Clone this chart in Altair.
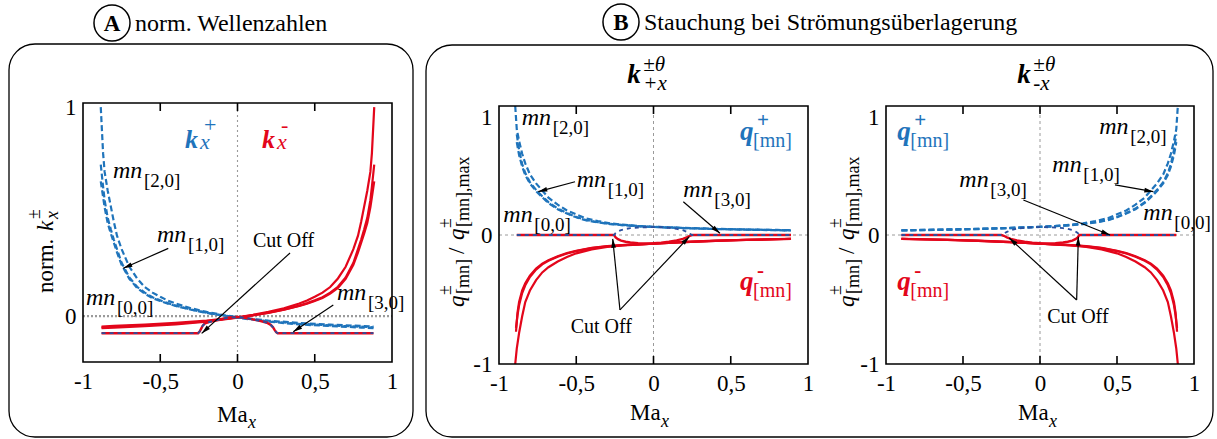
import math
import altair as alt
import pandas as pd

FONT = "'Liberation Serif', 'Times New Roman', 'DejaVu Serif', serif"
BLUE = "#1f74bb"
RED = "#e3061b"
GREY = "#9a9a9a"

PAGE_W, PAGE_H = 1217, 439

# ---------------------------------------------------------------
# Panel A - normalised axial wave numbers k_x^+ (blue) / k_x^- (red)
# ---------------------------------------------------------------
A_KP_X = [-0.885, -0.87, -0.86, -0.84, -0.82, -0.80, -0.78, -0.75, -0.70, -0.65, -0.60, -0.55,
          -0.50, -0.45, -0.40, -0.30, -0.20, -0.10, 0.0, 0.20, 0.40, 0.60, 0.80, 0.88]
A_KP_Y_OUTER = [1.0, 0.78, 0.69, 0.60, 0.525, 0.45, 0.385, 0.32, 0.236, 0.18, 0.139, 0.112,
                0.092, 0.074, 0.06, 0.037, 0.02, 0.006, -0.006, -0.022, -0.033, -0.041, -0.047, -0.05]
A_KP_Y_MID = [0.725, 0.62, 0.555, 0.47, 0.415, 0.365, 0.32, 0.255, 0.185, 0.14, 0.112, 0.09,
              0.075, 0.062, 0.05, 0.031, 0.016, 0.004, -0.007, -0.025, -0.037, -0.045, -0.051, -0.054]
A_KP_Y_IN = [0.645, 0.57, 0.52, 0.445, 0.395, 0.35, 0.305, 0.245, 0.178, 0.135, 0.107, 0.086,
             0.072, 0.059, 0.048, 0.03, 0.015, 0.003, -0.008, -0.027, -0.04, -0.048, -0.055, -0.058]

A_KM_X = [-0.88, -0.80, -0.60, -0.40, -0.20, 0.0, 0.10, 0.20, 0.30, 0.40, 0.45, 0.50,
          0.55, 0.60, 0.65, 0.70, 0.75, 0.78, 0.80, 0.82, 0.84, 0.86, 0.87, 0.885]
A_KM_Y_OUTER = [-0.05, -0.047, -0.041, -0.033, -0.022, -0.006, 0.006, 0.02, 0.037, 0.06, 0.074, 0.092,
                0.112, 0.139, 0.18, 0.236, 0.32, 0.385, 0.45, 0.525, 0.60, 0.69, 0.78, 1.0]
A_KM_Y_MID = [-0.054, -0.051, -0.045, -0.037, -0.025, -0.007, 0.004, 0.016, 0.031, 0.05, 0.062, 0.075,
              0.09, 0.112, 0.14, 0.185, 0.255, 0.32, 0.365, 0.415, 0.47, 0.555, 0.62, 0.725]
A_KM_Y_IN = [-0.058, -0.055, -0.048, -0.04, -0.027, -0.008, 0.003, 0.015, 0.03, 0.048, 0.059, 0.072,
             0.086, 0.107, 0.135, 0.178, 0.245, 0.305, 0.35, 0.395, 0.445, 0.52, 0.57, 0.645]

# mode [3,0]: cut off for |Ma| < 0.25
A_C30_X = [-0.88, -0.255, -0.245, -0.235, -0.225, -0.21, -0.18, -0.15, -0.10, -0.05, 0.0, 0.05,
           0.10, 0.15, 0.19, 0.215, 0.23, 0.24, 0.25, 0.26, 0.88]
A_C30_Y = [-0.082, -0.082, -0.074, -0.06, -0.046, -0.035, -0.028, -0.022, -0.014, -0.007, -0.004, -0.008,
           -0.016, -0.024, -0.032, -0.042, -0.054, -0.066, -0.077, -0.082, -0.082]

# ---------------------------------------------------------------
# Panel B1 - compression for k_{+x}
# ---------------------------------------------------------------
B1_QP_X = [-0.895, -0.885, -0.87, -0.85, -0.83, -0.80, -0.76, -0.72, -0.68, -0.62, -0.56, -0.50,
           -0.44, -0.36, -0.28, -0.20, -0.10, 0.0, 0.20, 0.40, 0.60, 0.80, 0.89]
B1_QP_Y_OUTER = [1.0, 0.82, 0.73, 0.63, 0.555, 0.47, 0.40, 0.345, 0.29, 0.235, 0.19, 0.16,
                 0.13, 0.108, 0.09, 0.08, 0.07, 0.064, 0.055, 0.048, 0.043, 0.039, 0.037]
B1_QPI_X = [-0.885, -0.87, -0.85, -0.83, -0.80, -0.76, -0.72, -0.68, -0.62, -0.56, -0.50,
            -0.44, -0.36, -0.28, -0.20, -0.10, 0.0, 0.20, 0.40, 0.60, 0.80, 0.89]
B1_QP_Y_MID = [0.78, 0.66, 0.55, 0.48, 0.41, 0.35, 0.30, 0.255, 0.205, 0.17, 0.14,
               0.117, 0.099, 0.086, 0.077, 0.069, 0.063, 0.054, 0.047, 0.042, 0.038, 0.036]
B1_QP_Y_IN = [0.72, 0.62, 0.53, 0.465, 0.40, 0.34, 0.292, 0.248, 0.20, 0.166, 0.137,
              0.114, 0.097, 0.085, 0.076, 0.068, 0.062, 0.053, 0.046, 0.041, 0.037, 0.035]

B1_QM_X = [-0.895, -0.885, -0.87, -0.85, -0.83, -0.80, -0.76, -0.72, -0.68, -0.62, -0.56, -0.50,
           -0.40, -0.30, -0.20, -0.10, 0.0, 0.20, 0.40, 0.60, 0.80, 0.89]
B1_QM_Y_OUTER = [-1.0, -0.88, -0.76, -0.63, -0.52, -0.43, -0.35, -0.29, -0.25, -0.205, -0.17, -0.142,
                 -0.112, -0.092, -0.08, -0.074, -0.068, -0.055, -0.045, -0.038, -0.033, -0.03]
B1_QMT_X = [-0.89, -0.88, -0.87, -0.85, -0.83, -0.80, -0.76, -0.72, -0.68, -0.62, -0.56, -0.50,
            -0.40, -0.30, -0.20, -0.10, 0.0, 0.20, 0.40, 0.60, 0.80, 0.89]
B1_QM_Y_MID = [-0.75, -0.60, -0.52, -0.43, -0.375, -0.315, -0.26, -0.222, -0.195, -0.165, -0.14, -0.122,
               -0.10, -0.086, -0.078, -0.072, -0.067, -0.054, -0.044, -0.037, -0.032, -0.029]
B1_QM_Y_IN = [-0.72, -0.62, -0.545, -0.45, -0.39, -0.325, -0.268, -0.228, -0.20, -0.169, -0.143, -0.125,
              -0.102, -0.088, -0.079, -0.073, -0.068, -0.055, -0.045, -0.038, -0.033, -0.03]

B1_C30_X = [-0.885, -0.255, -0.245, -0.23, -0.21, -0.18, -0.15, -0.10, -0.05, 0.0, 0.05, 0.10,
            0.15, 0.19, 0.215, 0.235, 0.25, 0.89]
B1_C30_Y_RED = [0, 0, -0.018, -0.032, -0.043, -0.052, -0.058, -0.063, -0.065, -0.064, -0.06, -0.052,
                -0.042, -0.03, -0.018, -0.006, 0, 0]
B1_C30_Y_BLUE = [0, 0, 0.016, 0.028, 0.038, 0.047, 0.053, 0.058, 0.06, 0.061, 0.06, 0.056,
                 0.048, 0.037, 0.024, 0.01, 0, 0]

# ---------------------------------------------------------------
# Panel B2 - compression for k_{-x}
# ---------------------------------------------------------------
B2_QP_X = [-0.90, -0.80, -0.60, -0.40, -0.20, 0.0, 0.10, 0.20, 0.28, 0.36, 0.44, 0.50,
           0.56, 0.62, 0.68, 0.72, 0.76, 0.80, 0.83, 0.85, 0.87, 0.885, 0.895]
B2_QP_Y_OUTER = [0.037, 0.039, 0.043, 0.048, 0.055, 0.064, 0.07, 0.08, 0.09, 0.108, 0.13, 0.16,
                 0.19, 0.235, 0.29, 0.345, 0.40, 0.47, 0.555, 0.63, 0.73, 0.82, 1.0]
B2_QPI_X = [-0.90, -0.80, -0.60, -0.40, -0.20, 0.0, 0.10, 0.20, 0.28, 0.36, 0.44, 0.50,
            0.56, 0.62, 0.68, 0.72, 0.76, 0.80, 0.83, 0.85, 0.87, 0.885]
B2_QP_Y_MID = [0.036, 0.038, 0.042, 0.047, 0.054, 0.063, 0.069, 0.077, 0.086, 0.099, 0.117, 0.14,
               0.17, 0.205, 0.255, 0.30, 0.35, 0.41, 0.48, 0.55, 0.66, 0.78]
B2_QP_Y_IN = [0.035, 0.037, 0.041, 0.046, 0.053, 0.062, 0.068, 0.076, 0.085, 0.097, 0.114, 0.137,
              0.166, 0.20, 0.248, 0.292, 0.34, 0.40, 0.465, 0.53, 0.62, 0.72]

B2_QM_X = [-0.90, -0.80, -0.60, -0.40, -0.20, 0.0, 0.10, 0.20, 0.30, 0.40, 0.50, 0.56,
           0.62, 0.68, 0.72, 0.76, 0.80, 0.83, 0.85, 0.87, 0.885, 0.895]
B2_QM_Y_OUTER = [-0.03, -0.033, -0.038, -0.045, -0.055, -0.068, -0.074, -0.08, -0.092, -0.112, -0.142, -0.17,
                 -0.205, -0.25, -0.29, -0.35, -0.43, -0.52, -0.63, -0.76, -0.88, -1.0]
B2_QMT_X = [-0.90, -0.80, -0.60, -0.40, -0.20, 0.0, 0.10, 0.20, 0.30, 0.40, 0.50, 0.56,
            0.62, 0.68, 0.72, 0.76, 0.80, 0.83, 0.85, 0.87, 0.88, 0.89]
B2_QM_Y_MID = [-0.029, -0.032, -0.037, -0.044, -0.054, -0.067, -0.072, -0.078, -0.086, -0.10, -0.122, -0.14,
               -0.165, -0.195, -0.222, -0.26, -0.315, -0.375, -0.43, -0.52, -0.60, -0.75]
B2_QM_Y_IN = [-0.03, -0.033, -0.038, -0.045, -0.055, -0.068, -0.073, -0.079, -0.088, -0.102, -0.125, -0.143,
              -0.169, -0.20, -0.228, -0.268, -0.325, -0.39, -0.45, -0.545, -0.62, -0.72]

B2_C30_X = [-0.90, -0.25, -0.235, -0.215, -0.19, -0.15, -0.10, -0.05, 0.0, 0.05, 0.10, 0.15,
            0.18, 0.21, 0.23, 0.245, 0.255, 0.885]
B2_C30_Y_RED = [0, 0, -0.006, -0.018, -0.03, -0.042, -0.052, -0.06, -0.064, -0.065, -0.063, -0.058,
                -0.052, -0.043, -0.032, -0.018, 0, 0]
B2_C30_Y_BLUE = [0, 0, 0.01, 0.024, 0.037, 0.048, 0.056, 0.06, 0.061, 0.06, 0.058, 0.053,
                 0.047, 0.038, 0.028, 0.016, 0, 0]

# ---------------------------------------------------------------
# Axis ticks and annotation positions (data coordinates)
# ---------------------------------------------------------------
X_TICKS = [-1, -0.5, 0, 0.5, 1]
INNER_TICKS = [-0.5, 0, 0.5]

A_MN_X = [-0.806, -0.521, -0.981, 0.644]
A_MN_Y = [0.661, 0.355, 0.053, 0.077]
A_MN_SUB = ["[2,0]", "[1,0]", "[0,0]", "[3,0]"]
A_CUT = (0.10, 0.331)
A_K_X = [-0.34, 0.159]
A_K_Y = [0.805, 0.805]
A_ARROW_TAIL = [(-0.448, 0.324), (0.34, 0.302), (0.62, 0.053)]
A_ARROW_HEAD = [(-0.739, 0.229), (-0.232, -0.083), (0.361, -0.075)]

B1_MN_X = [-0.853, -0.497, -0.972, 0.193]
B1_MN_Y = [0.853, 0.374, 0.103, 0.297]
B1_MN_SUB = ["[2,0]", "[1,0]", "[0,0]", "[3,0]"]
B1_CUT = (-0.536, -0.757)
B1_Q_X = [0.56, 0.56]
B1_Q_Y = [0.736, -0.426]
B1_TITLE = (-0.17, 1.176)
B1_ARROW_TAIL = [(-0.508, 0.413), (0.193, 0.258), (-0.217, -0.581), (-0.217, -0.581)]
B1_ARROW_HEAD = [(-0.746, 0.336), (0.43, 0.013), (-0.264, -0.03), (0.232, -0.013)]

B2_MN_X = [0.385, 0.08, -0.524, 0.671]
B2_MN_Y = [0.783, 0.491, 0.374, 0.116]
B2_MN_SUB = ["[2,0]", "[1,0]", "[3,0]", "[0,0]"]
B2_CUT = (0.047, -0.685)
B2_Q_X = [-0.927, -0.927]
B2_Q_Y = [0.736, -0.426]
B2_TITLE = (-0.147, 1.176)
B2_ARROW_TAIL = [(0.487, 0.388), (-0.108, 0.271), (0.238, -0.504), (0.238, -0.504)]
B2_ARROW_HEAD = [(0.736, 0.336), (0.455, 0.0), (-0.20, -0.023), (0.249, -0.013)]

# plot rectangles on the page
PANELS = {
    "A": dict(xd=[-1, 1], yd=[-0.22, 1.02], xr=[83, 392], yr=[362, 103], yticks=[0, 1]),
    "B1": dict(xd=[-1, 1], yd=[-1, 1], xr=[499, 808], yr=[364, 106], yticks=[-1, 0, 1]),
    "B2": dict(xd=[-1, 1], yd=[-1, 1], xr=[886, 1194], yr=[364, 106], yticks=[-1, 0, 1]),
}

LABEL_EXPR = "replace(toString(datum.value), '.', ',')"


def scales(p):
    sx = alt.Scale(domain=p["xd"], range=p["xr"], nice=False, zero=False)
    sy = alt.Scale(domain=p["yd"], range=p["yr"], nice=False, zero=False)
    return sx, sy


def xy(p, xf="x", yf="y"):
    sx, sy = scales(p)
    return dict(x=alt.X(f"{xf}:Q", scale=sx, axis=None),
                y=alt.Y(f"{yf}:Q", scale=sy, axis=None))


def curves(p, series, **mark):
    rows = []
    for cid, (xs, ys) in enumerate(series):
        for i, (a, b) in enumerate(zip(xs, ys)):
            rows.append({"c": cid, "i": i, "x": a, "y": b})
    return (alt.Chart(pd.DataFrame(rows)).mark_line(**mark)
            .encode(**xy(p), detail="c:N", order="i:Q"))


def texts(p, xs, ys, labels, colors=None, **mark):
    df = pd.DataFrame({"x": xs, "y": ys, "t": labels,
                       "col": colors if colors else ["black"] * len(xs)})
    style = dict(font=FONT, align="left", baseline="alphabetic")
    style.update(mark)
    return (alt.Chart(df).mark_text(**style)
            .encode(**xy(p), text="t:N", color=alt.Color("col:N", scale=None)))


def arrows(p, tails, heads):
    kx = (p["xr"][1] - p["xr"][0]) / (p["xd"][1] - p["xd"][0])
    ky = (p["yr"][0] - p["yr"][1]) / (p["yd"][1] - p["yd"][0])
    rows = []
    for (x1, y1), (x2, y2) in zip(tails, heads):
        dxp = (x2 - x1) * kx
        dyp = -(y2 - y1) * ky
        ang = math.degrees(math.atan2(dxp, -dyp)) % 360
        rows.append(dict(x=x1, y=y1, x2=x2, y2=y2, a=ang))
    df = pd.DataFrame(rows)
    sx, sy = scales(p)
    shaft = alt.Chart(df).mark_rule(color="black", strokeWidth=1.2).encode(
        x=alt.X("x:Q", scale=sx, axis=None), y=alt.Y("y:Q", scale=sy, axis=None),
        x2="x2:Q", y2="y2:Q")
    head = alt.Chart(df).mark_point(shape="M0,0L0.5,1.9L-0.5,1.9Z", filled=True, color="black",
                                    size=90, opacity=1).encode(
        x=alt.X("x2:Q", scale=sx, axis=None), y=alt.Y("y2:Q", scale=sy, axis=None),
        angle=alt.Angle("a:Q", scale=None))
    return [shaft, head]


def frame_and_axes(p, flush_top):
    sx, sy = scales(p)
    df = pd.DataFrame({"x": [p["xd"][0]], "x2": [p["xd"][1]],
                       "y": [p["yd"][0]], "y2": [p["yd"][1]]})
    common = dict(ticks=False, domain=False, grid=False, labelFont=FONT, labelFontSize=23,
                  labelColor="black", labelFlush=False, labelOverlap=False, title="")
    xaxis = alt.Axis(values=X_TICKS, labelExpr=LABEL_EXPR, orient="bottom",
                     offset=p["yr"][0] - PAGE_H, labelPadding=8, **common)
    ybase = {"condition": {"test": "datum.value == 1", "value": "top"}, "value": "middle"} \
        if flush_top else "middle"
    yaxis = alt.Axis(values=p["yticks"], labelExpr=LABEL_EXPR, orient="left",
                     offset=-p["xr"][0], labelPadding=7, labelBaseline=ybase, **common)
    return alt.Chart(df).mark_rect(fill="transparent", stroke="black", strokeWidth=1.6).encode(
        x=alt.X("x:Q", scale=sx, axis=xaxis), x2="x2:Q",
        y=alt.Y("y:Q", scale=sy, axis=yaxis), y2="y2:Q")


def zero_lines(p, hdash, hwidth, vdash, vwidth):
    sx, sy = scales(p)
    h = pd.DataFrame({"x": [p["xd"][0]], "x2": [p["xd"][1]], "y": [0]})
    v = pd.DataFrame({"x": [0], "y": [p["yd"][0]], "y2": [p["yd"][1]]})
    hl = alt.Chart(h).mark_rule(color=GREY, strokeDash=hdash, strokeWidth=hwidth).encode(
        x=alt.X("x:Q", scale=sx, axis=None), x2="x2:Q", y=alt.Y("y:Q", scale=sy, axis=None))
    vl = alt.Chart(v).mark_rule(color=GREY, strokeDash=vdash, strokeWidth=vwidth).encode(
        x=alt.X("x:Q", scale=sx, axis=None), y=alt.Y("y:Q", scale=sy, axis=None), y2="y2:Q")
    return [hl, vl]


def inner_ticks(p):
    sx, sy = scales(p)
    top = pd.DataFrame({"x": INNER_TICKS, "y": [p["yd"][1]] * 3})
    bot = pd.DataFrame({"x": INNER_TICKS, "y": [p["yd"][0]] * 3})
    out = []
    for df, off in ((top, 8), (bot, -8)):
        out.append(alt.Chart(df).mark_rule(color="black", strokeWidth=1.6, y2Offset=off).encode(
            x=alt.X("x:Q", scale=sx, axis=None), y=alt.Y("y:Q", scale=sy, axis=None), y2="y:Q"))
    return out


def mn_labels(p, xs, ys, subs):
    return [texts(p, xs, ys, ["mn"] * len(xs), fontSize=24, fontStyle="italic"),
            texts(p, xs, ys, subs, fontSize=19, dx=31, dy=9)]


def cutoff_mode(p, xs, y_red, y_blue):
    return [curves(p, [(xs, y_red)], color=RED, strokeWidth=2.4),
            curves(p, [(xs, y_blue)], color="#2a4f9e", strokeWidth=1.8, strokeDash=[4, 4])]


layers = []

# ---------------- panel A ----------------
pA = PANELS["A"]
layers += zero_lines(pA, [2, 2], 2.2, [2, 3], 1.1)
layers.append(curves(pA, [(A_KM_X, A_KM_Y_OUTER), (A_KM_X, A_KM_Y_MID), (A_KM_X, A_KM_Y_IN)],
                     color=RED, strokeWidth=2.2))
layers.append(curves(pA, [(A_KP_X, A_KP_Y_OUTER), (A_KP_X, A_KP_Y_MID), (A_KP_X, A_KP_Y_IN)],
                     color=BLUE, strokeWidth=2.2, strokeDash=[6, 3]))
layers += cutoff_mode(pA, A_C30_X, A_C30_Y, A_C30_Y)
layers += mn_labels(pA, A_MN_X, A_MN_Y, A_MN_SUB)
layers.append(texts(pA, [A_CUT[0]], [A_CUT[1]], ["Cut Off"], fontSize=20))
layers.append(texts(pA, A_K_X, A_K_Y, ["k", "k"], [BLUE, RED], fontSize=26,
                    fontStyle="italic", fontWeight="bold"))
layers.append(texts(pA, A_K_X, A_K_Y, ["x", "x"], [BLUE, RED], fontSize=22,
                    fontStyle="italic", dx=15, dy=1))
layers.append(texts(pA, A_K_X, A_K_Y, ["+", "-"], [BLUE, RED], fontSize=22, dx=19, dy=-16))
layers += arrows(pA, A_ARROW_TAIL, A_ARROW_HEAD)
layers += inner_ticks(pA)
layers.append(frame_and_axes(pA, False))


# ---------------- panels B1 / B2 ----------------
def panel_b(p, qp, qm, c30, mn, cut, qpos, title, sub, tails, heads):
    out = []
    out += zero_lines(p, [3, 3], 1.0, [3, 3], 1.0)
    out.append(curves(p, qm, color=RED, strokeWidth=2.2))
    out.append(curves(p, qp, color=BLUE, strokeWidth=2.2, strokeDash=[6, 3]))
    out += cutoff_mode(p, *c30)
    out += mn_labels(p, *mn)
    out.append(texts(p, [cut[0]], [cut[1]], ["Cut Off"], fontSize=20))
    qx, qy = qpos
    out.append(texts(p, qx, qy, ["q", "q"], [BLUE, RED], fontSize=27,
                     fontStyle="italic", fontWeight="bold"))
    out.append(texts(p, qx, qy, ["+", "-"], [BLUE, RED], fontSize=21, fontWeight="bold",
                     dx=17, dy=-13))
    out.append(texts(p, qx, qy, ["[mn]", "[mn]"], [BLUE, RED], fontSize=20, dx=13, dy=7))
    out.append(texts(p, [title[0]], [title[1]], ["k"], fontSize=27, fontStyle="italic",
                     fontWeight="bold"))
    out.append(texts(p, [title[0]], [title[1]], ["\u00b1\u03b8"], fontSize=21, fontStyle="italic",
                     dx=16, dy=-12))
    out.append(texts(p, [title[0]], [title[1]], [sub], fontSize=21, fontStyle="italic",
                     dx=16, dy=7))
    out += arrows(p, tails, heads)
    out += inner_ticks(p)
    out.append(frame_and_axes(p, True))
    return out


layers += panel_b(
    PANELS["B1"],
    [(B1_QP_X, B1_QP_Y_OUTER), (B1_QPI_X, B1_QP_Y_MID), (B1_QPI_X, B1_QP_Y_IN)],
    [(B1_QM_X, B1_QM_Y_OUTER), (B1_QMT_X, B1_QM_Y_MID), (B1_QMT_X, B1_QM_Y_IN)],
    (B1_C30_X, B1_C30_Y_RED, B1_C30_Y_BLUE),
    (B1_MN_X, B1_MN_Y, B1_MN_SUB), B1_CUT, (B1_Q_X, B1_Q_Y), B1_TITLE, "+x",
    B1_ARROW_TAIL, B1_ARROW_HEAD)

layers += panel_b(
    PANELS["B2"],
    [(B2_QP_X, B2_QP_Y_OUTER), (B2_QPI_X, B2_QP_Y_MID), (B2_QPI_X, B2_QP_Y_IN)],
    [(B2_QM_X, B2_QM_Y_OUTER), (B2_QMT_X, B2_QM_Y_MID), (B2_QMT_X, B2_QM_Y_IN)],
    (B2_C30_X, B2_C30_Y_RED, B2_C30_Y_BLUE),
    (B2_MN_X, B2_MN_Y, B2_MN_SUB), B2_CUT, (B2_Q_X, B2_Q_Y), B2_TITLE, "-x",
    B2_ARROW_TAIL, B2_ARROW_HEAD)


# ---------------- page furniture (pixel positions) ----------------
def pix_text(rows, **mark):
    df = pd.DataFrame(rows, columns=["t", "px", "py"])
    style = dict(font=FONT, align="left", baseline="alphabetic", color="black")
    style.update(mark)
    return alt.Chart(df).mark_text(**style).encode(
        x=alt.X("px:Q", scale=None, axis=None), y=alt.Y("py:Q", scale=None, axis=None), text="t:N")


boxes = pd.DataFrame({"px": [9, 426], "px2": [413, 1213], "py": [44, 45], "py2": [437, 437]})
layers.append(alt.Chart(boxes).mark_rect(fill="transparent", stroke="black", strokeWidth=1.3,
                                         cornerRadius=26).encode(
    x=alt.X("px:Q", scale=None, axis=None), x2="px2:Q",
    y=alt.Y("py:Q", scale=None, axis=None), y2="py2:Q"))

badges = pd.DataFrame({"px": [112, 621], "py": [23, 22]})
layers.append(alt.Chart(badges).mark_point(shape="circle", size=1300, filled=False, color="black",
                                           strokeWidth=1.5, opacity=1).encode(
    x=alt.X("px:Q", scale=None, axis=None), y=alt.Y("py:Q", scale=None, axis=None)))
layers.append(pix_text([("A", 112, 31), ("B", 621, 30)], fontSize=23, fontWeight="bold",
                       align="center"))
layers.append(pix_text([("norm. Wellenzahlen", 135, 31),
                        ("Stauchung bei Str\u00f6mungs\u00fcberlagerung", 644, 30)], fontSize=24))

# x axis titles: Ma_x
layers.append(pix_text([("Ma", 217, 422), ("Ma", 630, 420), ("Ma", 1018, 420)], fontSize=23))
layers.append(pix_text([("x", 248, 428), ("x", 661, 427), ("x", 1049, 427)], fontSize=18,
                       fontStyle="italic"))

# y axis title of panel A (rotated)
layers.append(pix_text([("norm.", 53, 293)], fontSize=23, angle=270))
layers.append(pix_text([("k", 53, 231)], fontSize=23, fontStyle="italic", angle=270))
layers.append(pix_text([("x", 58, 219)], fontSize=18, fontStyle="italic", angle=270))
layers.append(pix_text([("\u00b1", 40, 219)], fontSize=18, angle=270))

# y axis titles of panels B1 / B2 (rotated)
for base in (464, 854):
    layers.append(pix_text([("q", base, 307), ("q", base, 240)], fontSize=23, fontStyle="italic",
                           angle=270))
    layers.append(pix_text([("\u00b1", base - 13, 295), ("\u00b1", base - 13, 228)], fontSize=18,
                           angle=270))
    layers.append(pix_text([("[mn]", base + 5, 294), ("[mn],max", base + 5, 227)], fontSize=18,
                           angle=270))
    layers.append(pix_text([("/", base, 254)], fontSize=23, angle=270))

chart = (alt.layer(*layers)
         .resolve_scale(x="independent", y="independent")
         .properties(width=PAGE_W, height=PAGE_H, padding=0, background="white",
                     autosize=alt.AutoSizeParams(type="none"))
         .configure_view(stroke="transparent"))

chart.save("out.html", embed_options={"renderer": "svg", "actions": False})
